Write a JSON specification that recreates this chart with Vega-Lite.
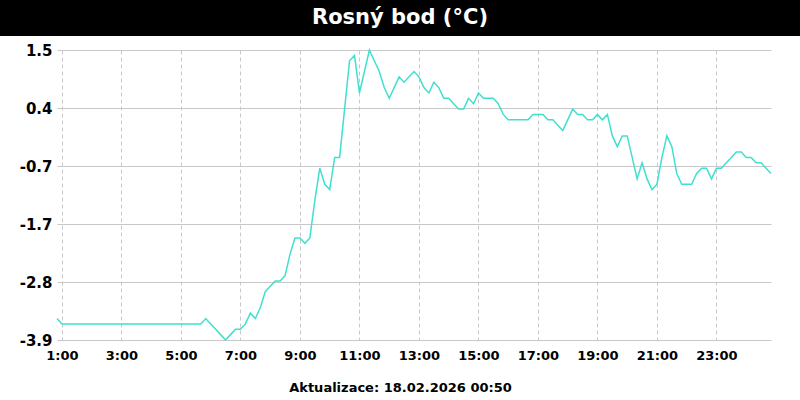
{
  "$schema": "https://vega.github.io/schema/vega-lite/v6.json",
  "padding": 0,
  "background": "white",
  "spacing": 7,
  "config": {"view": {"stroke": null}, "font": "DejaVu Sans"},
  "vconcat": [
    {
      "width": 743,
      "height": 36,
      "view": {"fill": "black", "stroke": null},
      "data": {"values": [{"title": "Rosný bod (°C)"}]},
      "mark": {"type": "text", "color": "white", "fontSize": 21, "fontWeight": "bold", "font": "DejaVu Sans", "align": "center", "baseline": "middle", "dx": -28.5},
      "encoding": {
        "text": {"field": "title"},
        "y": {
          "field": "title",
          "type": "nominal",
          "scale": {"paddingInner": 0, "paddingOuter": 0},
          "axis": {"labels": false, "ticks": false, "title": null, "grid": false, "domain": true, "domainColor": "black", "domainWidth": 114, "domainCap": "butt", "translate": 0}
        }
      }
    },
    {
      "width": 714,
      "height": 290,
      "data": {"values": [
        {"t": "2026-02-17T00:50", "v": -3.5},
        {"t": "2026-02-17T01:00", "v": -3.6},
        {"t": "2026-02-17T01:10", "v": -3.6},
        {"t": "2026-02-17T01:20", "v": -3.6},
        {"t": "2026-02-17T01:30", "v": -3.6},
        {"t": "2026-02-17T01:40", "v": -3.6},
        {"t": "2026-02-17T01:50", "v": -3.6},
        {"t": "2026-02-17T02:00", "v": -3.6},
        {"t": "2026-02-17T02:10", "v": -3.6},
        {"t": "2026-02-17T02:20", "v": -3.6},
        {"t": "2026-02-17T02:30", "v": -3.6},
        {"t": "2026-02-17T02:40", "v": -3.6},
        {"t": "2026-02-17T02:50", "v": -3.6},
        {"t": "2026-02-17T03:00", "v": -3.6},
        {"t": "2026-02-17T03:10", "v": -3.6},
        {"t": "2026-02-17T03:20", "v": -3.6},
        {"t": "2026-02-17T03:30", "v": -3.6},
        {"t": "2026-02-17T03:40", "v": -3.6},
        {"t": "2026-02-17T03:50", "v": -3.6},
        {"t": "2026-02-17T04:00", "v": -3.6},
        {"t": "2026-02-17T04:10", "v": -3.6},
        {"t": "2026-02-17T04:20", "v": -3.6},
        {"t": "2026-02-17T04:30", "v": -3.6},
        {"t": "2026-02-17T04:40", "v": -3.6},
        {"t": "2026-02-17T04:50", "v": -3.6},
        {"t": "2026-02-17T05:00", "v": -3.6},
        {"t": "2026-02-17T05:10", "v": -3.6},
        {"t": "2026-02-17T05:20", "v": -3.6},
        {"t": "2026-02-17T05:30", "v": -3.6},
        {"t": "2026-02-17T05:40", "v": -3.6},
        {"t": "2026-02-17T05:50", "v": -3.5},
        {"t": "2026-02-17T06:00", "v": -3.6},
        {"t": "2026-02-17T06:10", "v": -3.7},
        {"t": "2026-02-17T06:20", "v": -3.8},
        {"t": "2026-02-17T06:30", "v": -3.9},
        {"t": "2026-02-17T06:40", "v": -3.8},
        {"t": "2026-02-17T06:50", "v": -3.7},
        {"t": "2026-02-17T07:00", "v": -3.7},
        {"t": "2026-02-17T07:10", "v": -3.6},
        {"t": "2026-02-17T07:20", "v": -3.4},
        {"t": "2026-02-17T07:30", "v": -3.5},
        {"t": "2026-02-17T07:40", "v": -3.3},
        {"t": "2026-02-17T07:50", "v": -3.0},
        {"t": "2026-02-17T08:00", "v": -2.9},
        {"t": "2026-02-17T08:10", "v": -2.8},
        {"t": "2026-02-17T08:20", "v": -2.8},
        {"t": "2026-02-17T08:30", "v": -2.7},
        {"t": "2026-02-17T08:40", "v": -2.3},
        {"t": "2026-02-17T08:50", "v": -2.0},
        {"t": "2026-02-17T09:00", "v": -2.0},
        {"t": "2026-02-17T09:10", "v": -2.1},
        {"t": "2026-02-17T09:20", "v": -2.0},
        {"t": "2026-02-17T09:30", "v": -1.3},
        {"t": "2026-02-17T09:40", "v": -0.7},
        {"t": "2026-02-17T09:50", "v": -1.0},
        {"t": "2026-02-17T10:00", "v": -1.1},
        {"t": "2026-02-17T10:10", "v": -0.5},
        {"t": "2026-02-17T10:20", "v": -0.5},
        {"t": "2026-02-17T10:30", "v": 0.4},
        {"t": "2026-02-17T10:40", "v": 1.3},
        {"t": "2026-02-17T10:50", "v": 1.4},
        {"t": "2026-02-17T11:00", "v": 0.7},
        {"t": "2026-02-17T11:10", "v": 1.1},
        {"t": "2026-02-17T11:20", "v": 1.5},
        {"t": "2026-02-17T11:30", "v": 1.3},
        {"t": "2026-02-17T11:40", "v": 1.1},
        {"t": "2026-02-17T11:50", "v": 0.8},
        {"t": "2026-02-17T12:00", "v": 0.6},
        {"t": "2026-02-17T12:10", "v": 0.8},
        {"t": "2026-02-17T12:20", "v": 1.0},
        {"t": "2026-02-17T12:30", "v": 0.9},
        {"t": "2026-02-17T12:40", "v": 1.0},
        {"t": "2026-02-17T12:50", "v": 1.1},
        {"t": "2026-02-17T13:00", "v": 1.0},
        {"t": "2026-02-17T13:10", "v": 0.8},
        {"t": "2026-02-17T13:20", "v": 0.7},
        {"t": "2026-02-17T13:30", "v": 0.9},
        {"t": "2026-02-17T13:40", "v": 0.8},
        {"t": "2026-02-17T13:50", "v": 0.6},
        {"t": "2026-02-17T14:00", "v": 0.6},
        {"t": "2026-02-17T14:10", "v": 0.5},
        {"t": "2026-02-17T14:20", "v": 0.4},
        {"t": "2026-02-17T14:30", "v": 0.4},
        {"t": "2026-02-17T14:40", "v": 0.6},
        {"t": "2026-02-17T14:50", "v": 0.5},
        {"t": "2026-02-17T15:00", "v": 0.7},
        {"t": "2026-02-17T15:10", "v": 0.6},
        {"t": "2026-02-17T15:20", "v": 0.6},
        {"t": "2026-02-17T15:30", "v": 0.6},
        {"t": "2026-02-17T15:40", "v": 0.5},
        {"t": "2026-02-17T15:50", "v": 0.3},
        {"t": "2026-02-17T16:00", "v": 0.2},
        {"t": "2026-02-17T16:10", "v": 0.2},
        {"t": "2026-02-17T16:20", "v": 0.2},
        {"t": "2026-02-17T16:30", "v": 0.2},
        {"t": "2026-02-17T16:40", "v": 0.2},
        {"t": "2026-02-17T16:50", "v": 0.3},
        {"t": "2026-02-17T17:00", "v": 0.3},
        {"t": "2026-02-17T17:10", "v": 0.3},
        {"t": "2026-02-17T17:20", "v": 0.2},
        {"t": "2026-02-17T17:30", "v": 0.2},
        {"t": "2026-02-17T17:40", "v": 0.1},
        {"t": "2026-02-17T17:50", "v": 0.0},
        {"t": "2026-02-17T18:00", "v": 0.2},
        {"t": "2026-02-17T18:10", "v": 0.4},
        {"t": "2026-02-17T18:20", "v": 0.3},
        {"t": "2026-02-17T18:30", "v": 0.3},
        {"t": "2026-02-17T18:40", "v": 0.2},
        {"t": "2026-02-17T18:50", "v": 0.2},
        {"t": "2026-02-17T19:00", "v": 0.3},
        {"t": "2026-02-17T19:10", "v": 0.2},
        {"t": "2026-02-17T19:20", "v": 0.3},
        {"t": "2026-02-17T19:30", "v": -0.1},
        {"t": "2026-02-17T19:40", "v": -0.3},
        {"t": "2026-02-17T19:50", "v": -0.1},
        {"t": "2026-02-17T20:00", "v": -0.1},
        {"t": "2026-02-17T20:10", "v": -0.5},
        {"t": "2026-02-17T20:20", "v": -0.9},
        {"t": "2026-02-17T20:30", "v": -0.6},
        {"t": "2026-02-17T20:40", "v": -0.9},
        {"t": "2026-02-17T20:50", "v": -1.1},
        {"t": "2026-02-17T21:00", "v": -1.0},
        {"t": "2026-02-17T21:10", "v": -0.5},
        {"t": "2026-02-17T21:20", "v": -0.1},
        {"t": "2026-02-17T21:30", "v": -0.3},
        {"t": "2026-02-17T21:40", "v": -0.8},
        {"t": "2026-02-17T21:50", "v": -1.0},
        {"t": "2026-02-17T22:00", "v": -1.0},
        {"t": "2026-02-17T22:10", "v": -1.0},
        {"t": "2026-02-17T22:20", "v": -0.8},
        {"t": "2026-02-17T22:30", "v": -0.7},
        {"t": "2026-02-17T22:40", "v": -0.7},
        {"t": "2026-02-17T22:50", "v": -0.9},
        {"t": "2026-02-17T23:00", "v": -0.7},
        {"t": "2026-02-17T23:10", "v": -0.7},
        {"t": "2026-02-17T23:20", "v": -0.6},
        {"t": "2026-02-17T23:30", "v": -0.5},
        {"t": "2026-02-17T23:40", "v": -0.4},
        {"t": "2026-02-17T23:50", "v": -0.4},
        {"t": "2026-02-18T00:00", "v": -0.5},
        {"t": "2026-02-18T00:10", "v": -0.5},
        {"t": "2026-02-18T00:20", "v": -0.6},
        {"t": "2026-02-18T00:30", "v": -0.6},
        {"t": "2026-02-18T00:40", "v": -0.7},
        {"t": "2026-02-18T00:50", "v": -0.8}
      ]},
      "mark": {"type": "line", "color": "#40E0D0", "strokeWidth": 1.5, "interpolate": "linear"},
      "encoding": {
        "x": {
          "field": "t",
          "type": "temporal",
          "scale": {"domain": [
            {"year": 2026, "month": 2, "date": 17, "hours": 0, "minutes": 50},
            {"year": 2026, "month": 2, "date": 18, "hours": 0, "minutes": 50}
          ]},
          "axis": {
            "values": [
              {"year": 2026, "month": 2, "date": 17, "hours": 1},
              {"year": 2026, "month": 2, "date": 17, "hours": 3},
              {"year": 2026, "month": 2, "date": 17, "hours": 5},
              {"year": 2026, "month": 2, "date": 17, "hours": 7},
              {"year": 2026, "month": 2, "date": 17, "hours": 9},
              {"year": 2026, "month": 2, "date": 17, "hours": 11},
              {"year": 2026, "month": 2, "date": 17, "hours": 13},
              {"year": 2026, "month": 2, "date": 17, "hours": 15},
              {"year": 2026, "month": 2, "date": 17, "hours": 17},
              {"year": 2026, "month": 2, "date": 17, "hours": 19},
              {"year": 2026, "month": 2, "date": 17, "hours": 21},
              {"year": 2026, "month": 2, "date": 17, "hours": 23}
            ],
            "format": "%-H:%M",
            "title": "Aktualizace: 18.02.2026 00:50",
            "titleFont": "DejaVu Sans",
            "titleFontSize": 13,
            "titleFontWeight": "bold",
            "titleColor": "black",
            "titlePadding": 19,
            "titleX": 343,
            "labelFont": "DejaVu Sans",
            "labelFontSize": 13,
            "labelFontWeight": "bold",
            "labelColor": "black",
            "labelPadding": 9,
            "labelFlush": false,
            "labelOverlap": false,
            "ticks": false,
            "domain": false,
            "grid": true,
            "gridColor": "#c8c8c8",
            "gridDash": [4, 3],
            "gridWidth": 1
          }
        },
        "y": {
          "field": "v",
          "type": "quantitative",
          "scale": {"domain": [-3.9, 1.5], "nice": false, "zero": false},
          "axis": {
            "values": [1.5, 0.42, -0.66, -1.74, -2.82, -3.9],
            "labelExpr": "toString(round(datum.value * 10) / 10)",
            "title": null,
            "labelFont": "DejaVu Sans",
            "labelFontSize": 15,
            "labelFontWeight": "bold",
            "labelColor": "black",
            "labelPadding": 5,
            "labelOverlap": false,
            "minExtent": 57,
            "ticks": false,
            "domain": false,
            "grid": true,
            "gridColor": "#c8c8c8",
            "gridWidth": 1
          }
        }
      }
    }
  ]
}
